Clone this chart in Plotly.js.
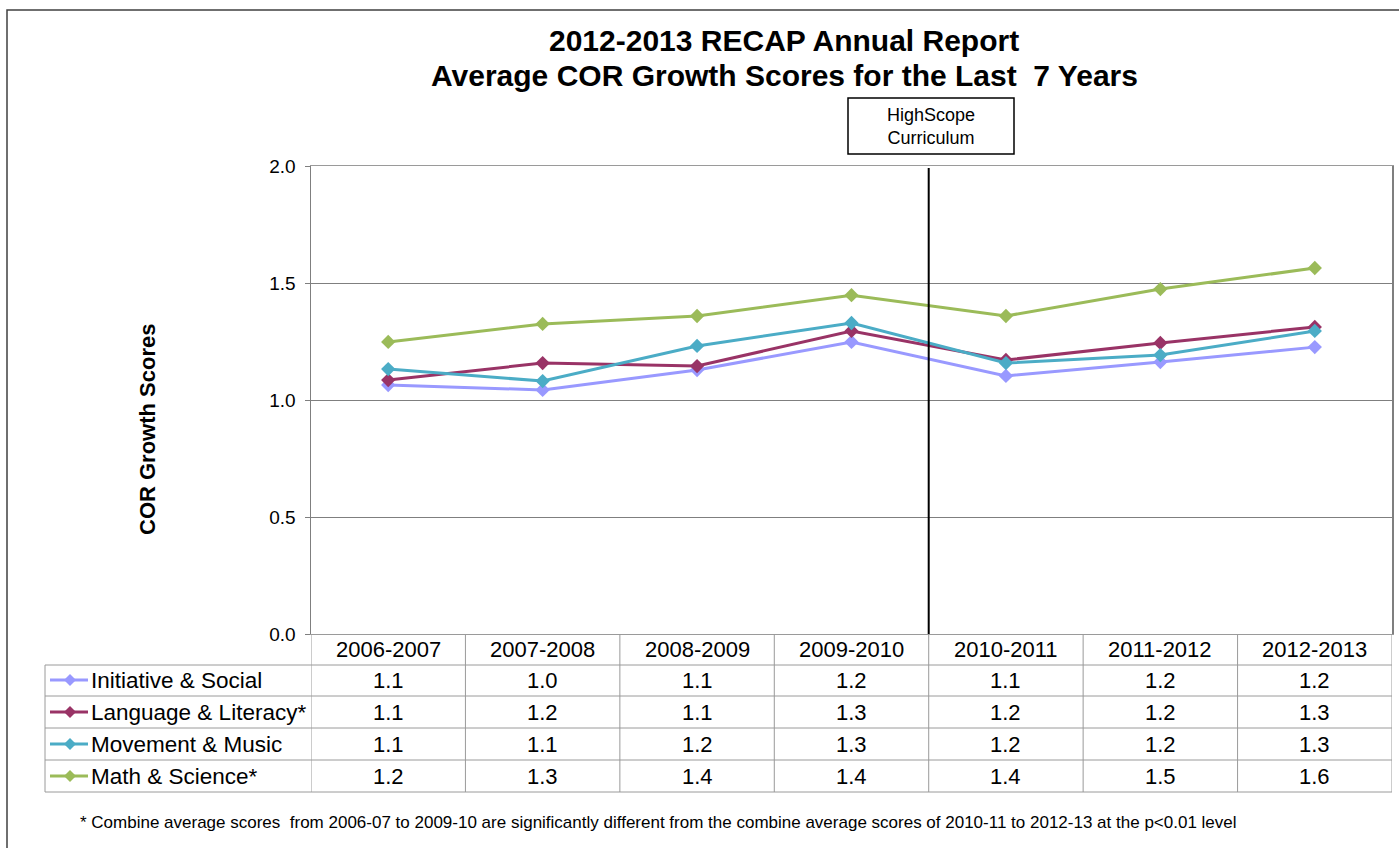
<!DOCTYPE html>
<html>
<head>
<meta charset="utf-8">
<script src="https://cdn.plot.ly/plotly-3.0.1.min.js"></script>
<style>html,body{margin:0;padding:0;background:#fff;}#chart{width:1399px;height:848px;}</style>
</head>
<body>
<div id="chart"></div>
<script>
const categories = ['2006-2007','2007-2008','2008-2009','2009-2010','2010-2011','2011-2012','2012-2013'];
const seriesNames = ['Initiative & Social','Language & Literacy*','Movement & Music','Math & Science*'];
const initiative = [1.064, 1.043, 1.128, 1.248, 1.103, 1.162, 1.226];
const language   = [1.085, 1.158, 1.145, 1.295, 1.171, 1.244, 1.312];
const movement   = [1.132, 1.081, 1.231, 1.329, 1.158, 1.192, 1.295];
const math       = [1.248, 1.325, 1.359, 1.448, 1.359, 1.474, 1.564];
const yTicks = [0, 0.5, 1.0, 1.5, 2.0];
const titleLines = ['2012-2013 RECAP Annual Report', 'Average COR Growth Scores for the Last \u00a07 Years'];
const colors = ['#9999FF','#993366','#4BACC6','#9BBB59'];
const allSeries = [initiative, language, movement, math];

const W = 1399, H = 848;
const L = 311, R = 7, T = 166, B = 214;
const PW = W - L - R, PH = H - T - B;
const px2x = px => (px - L) / PW;
const py2y = py => (H - B - py) / PH;
const FONT = '"Liberation Sans", Arial, sans-serif';
const gridCol = '#9a9a9a';

const traces = allSeries.map((vals, i) => ({
  x: categories, y: vals, type: 'scatter', mode: 'lines+markers', name: seriesNames[i],
  line: {color: colors[i], width: 3},
  marker: {symbol: 'diamond', size: 11, color: colors[i]},
  cliponaxis: false, hoverinfo: 'skip'
}));

const shapes = [];
const annotations = [];

// outer frame
shapes.push({type:'rect', xref:'paper', yref:'paper', x0: px2x(7), x1: px2x(1420), y0: py2y(870), y1: py2y(10),
  line:{color:'#404040', width:1.5}});

// title
annotations.push({xref:'paper', yref:'paper', x:px2x(784), y:py2y(40), text:'<b>' + titleLines[0] + '</b>', showarrow:false,
  font:{family:FONT, size:30, color:'#000'}, xanchor:'center', yanchor:'middle'});
annotations.push({xref:'paper', yref:'paper', x:px2x(784), y:py2y(75), text:'<b>' + titleLines[1] + '</b>', showarrow:false,
  font:{family:FONT, size:30, color:'#000'}, xanchor:'center', yanchor:'middle'});

// HighScope divider
shapes.push({type:'line', xref:'x', yref:'paper', x0:3.5, x1:3.5, y0:0, y1:py2y(168), line:{color:'#000', width:2}});
// HighScope box
shapes.push({type:'rect', xref:'paper', yref:'paper', x0:px2x(848), x1:px2x(1014), y0:py2y(154), y1:py2y(98),
  line:{color:'#000', width:1.5}, fillcolor:'#fff'});
annotations.push({xref:'paper', yref:'paper', x:px2x(931), y:py2y(126), text:'HighScope<br>Curriculum', showarrow:false,
  font:{family:FONT, size:18, color:'#000'}, xanchor:'center', yanchor:'middle'});

// table grid
const rowLines = [665, 696, 728, 760, 792];
rowLines.forEach(py => shapes.push({type:'line', xref:'paper', yref:'paper', x0:px2x(45), x1:1, y0:py2y(py), y1:py2y(py),
  line:{color:gridCol, width:1}}));
shapes.push({type:'line', xref:'paper', yref:'paper', x0:px2x(45), x1:px2x(45), y0:py2y(665), y1:py2y(792), line:{color:gridCol, width:1}});
for (let k = 0; k <= categories.length; k++) {
  shapes.push({type:'line', xref:'x', yref:'paper', x0:k-0.5, x1:k-0.5, y0:0, y1:py2y(792), line:{color:gridCol, width:1}});
}
// header labels
categories.forEach((c, k) => annotations.push({xref:'x', yref:'paper', x:k, y:py2y(649), text:c, showarrow:false,
  font:{family:FONT, size:22, color:'#000'}, xanchor:'center', yanchor:'middle'}));
// rows
const rowCenters = [680, 712, 744, 776];
allSeries.forEach((vals, i) => {
  const cy = py2y(rowCenters[i]);
  shapes.push({type:'line', xref:'paper', yref:'paper', x0:px2x(50), x1:px2x(88), y0:cy, y1:cy, line:{color:colors[i], width:3}});
  shapes.push({type:'path', xref:'paper', yref:'paper', xsizemode:'pixel', ysizemode:'pixel', xanchor:px2x(70), yanchor:cy,
    path:'M 0 -6 L 6 0 L 0 6 L -6 0 Z', fillcolor:colors[i], line:{color:colors[i], width:0}});
  annotations.push({xref:'paper', yref:'paper', x:px2x(89), y:cy, text:seriesNames[i], showarrow:false,
    font:{family:FONT, size:22.5, color:'#000'}, xanchor:'left', yanchor:'middle'});
  vals.forEach((v, k) => annotations.push({xref:'x', yref:'paper', x:k, y:cy, text:v.toFixed(1), showarrow:false,
    font:{family:FONT, size:22, color:'#000'}, xanchor:'center', yanchor:'middle'}));
});

// y axis title
annotations.push({xref:'paper', yref:'paper', x:px2x(147), y:py2y(430), text:'<b>COR Growth Scores</b>', textangle:-90, showarrow:false,
  font:{family:FONT, size:22, color:'#000'}, xanchor:'center', yanchor:'middle'});

// footnote
annotations.push({xref:'paper', yref:'paper', x:px2x(78), y:py2y(822), text:'* Combine average scores \u00a0from 2006-07 to 2009-10 are significantly different from the combine average scores of 2010-11 to 2012-13 at the p<0.01 level',
  showarrow:false, font:{family:FONT, size:17, color:'#000'}, xanchor:'left', yanchor:'middle'});

const layout = {
  width: W, height: H,
  margin: {l:L, r:R, t:T, b:B, pad:0},
  paper_bgcolor:'#fff', plot_bgcolor:'#fff',
  showlegend:false,
  xaxis: {type:'category', range:[-0.5, 6.5], showticklabels:false, ticks:'', showgrid:false, zeroline:false,
    showline:true, mirror:true, linecolor:gridCol, linewidth:1, fixedrange:true},
  yaxis: {range:[0, 2], tickvals:yTicks, ticktext:yTicks.map(v=>v.toFixed(1)), ticks:'outside', ticklen:5, tickcolor:'#7f7f7f',
    ticklabelstandoff:5,
    tickfont:{family:FONT, size:19, color:'#000'}, showgrid:true, gridcolor:'#7f7f7f', gridwidth:1, zeroline:false,
    showline:true, mirror:true, linecolor:'#7f7f7f', linewidth:1.5, fixedrange:true},
  shapes: shapes,
  annotations: annotations
};

Plotly.newPlot('chart', traces, layout, {displayModeBar:false, staticPlot:true});
</script>
</body>
</html>
